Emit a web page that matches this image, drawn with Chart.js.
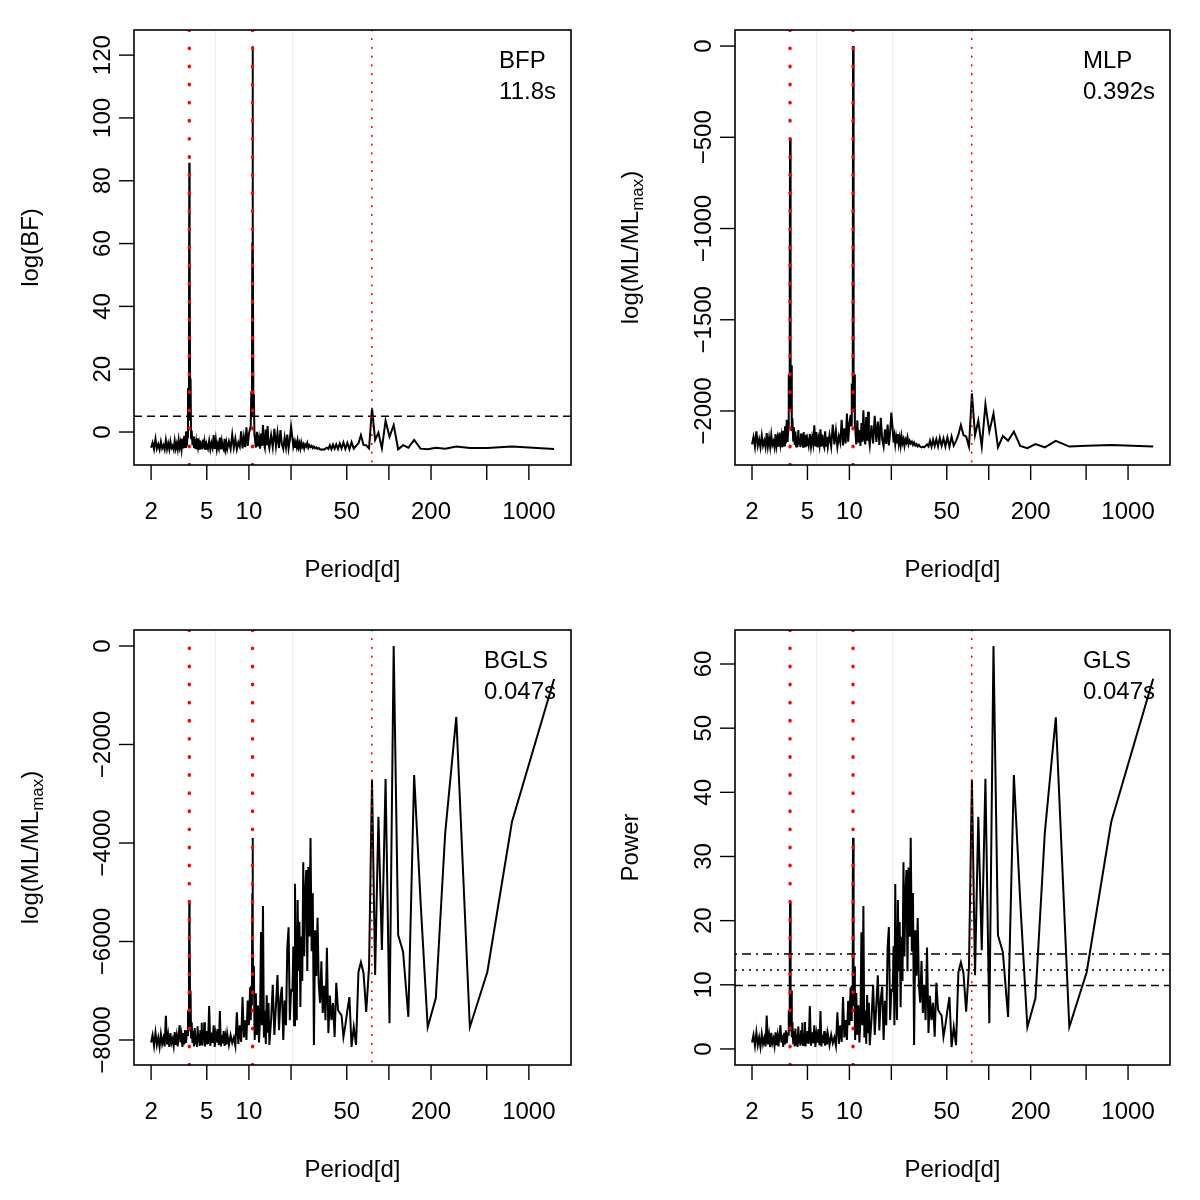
<!DOCTYPE html>
<html>
<head>
<meta charset="utf-8">
<title>Periodogramas</title>
<script src="https://cdn.jsdelivr.net/npm/chart.js@4.4.0/dist/chart.umd.min.js"></script>
<style>
  html, body { margin: 0; padding: 0; background: #fff; }
  #grid { position: relative; width: 1200px; height: 1200px; background: #fff; }
  #grid canvas { position: absolute; }
</style>
</head>
<body>
<div id="grid">
  <canvas id="cBFP"  width="600" height="600" style="left:0;top:0"></canvas>
  <canvas id="cMLP"  width="600" height="600" style="left:600px;top:0"></canvas>
  <canvas id="cBGLS" width="600" height="600" style="left:0;top:600px"></canvas>
  <canvas id="cGLS"  width="600" height="600" style="left:600px;top:600px"></canvas>
</div>
<script>
'use strict';

// ─── Data ─────────────────────────────────────────────────────────────────────
// Period grid [d], shared by the four periodograms
const periods = [
  // 2 - 3.6
  2.00, 2.05, 2.10, 2.15, 2.20, 2.25, 2.30, 2.35, 2.40, 2.45,
  2.50, 2.55, 2.60, 2.65, 2.70, 2.75, 2.80, 2.85, 2.90, 2.95,
  3.00, 3.05, 3.10, 3.15, 3.20, 3.25, 3.30, 3.35, 3.40, 3.45,
  3.50, 3.55, 3.60,
  // peak ~3.75
  3.64, 3.67, 3.70, 3.73, 3.75, 3.77, 3.80, 3.83, 3.86,
  // 3.9 - 5
  3.90, 3.95, 4.00, 4.05, 4.10, 4.15, 4.20, 4.25,
  4.30, 4.35, 4.40, 4.45, 4.50, 4.55, 4.60, 4.65, 4.70, 4.75,
  4.80, 4.85, 4.90, 4.95, 5.00,
  // 5.1 - 7
  5.1, 5.2, 5.3, 5.4, 5.5, 5.6, 5.7, 5.8, 5.9, 6.0,
  6.1, 6.2, 6.3, 6.4, 6.5, 6.6, 6.7, 6.8, 6.9, 7.0,
  // 7.2 - 10.2
  7.2, 7.4, 7.6, 7.8, 8.0, 8.2, 8.4, 8.6, 8.8, 9.0,
  9.2, 9.4, 9.6, 9.8, 10.0, 10.2,
  // peak ~10.6
  10.30, 10.40, 10.50, 10.57, 10.62, 10.68, 10.76, 10.85, 10.95,
  // 11 - 14
  11.0, 11.2, 11.4, 11.6, 11.8, 12.0, 12.2, 12.4, 12.6,
  12.8, 13.0, 13.2, 13.4, 13.6, 13.8, 14.0,
  // 14.4 - 20
  14.4, 14.8, 15.2, 15.6, 16.0, 16.4, 16.8, 17.2, 17.6, 18.0,
  18.4, 18.8, 19.2, 19.6, 20.0,
  // 20.5 - 44.6
  20.47, 20.75, 21.04, 21.34, 21.64, 21.96, 22.28, 22.61, 22.95, 23.31,
  23.67, 24.05, 24.44, 24.84, 25.25, 25.68, 26.12, 26.58, 27.05, 27.55,
  28.06, 28.58, 29.13, 29.71, 30.30, 30.92, 31.56, 32.23, 32.93, 33.67,
  34.43, 35.23, 36.07, 36.95, 37.88, 38.85, 39.87, 40.95, 42.08, 43.29,
  44.56,
  // long periods
  45.91, 47.34, 48.87, 50.50, 52.24, 54.11, 56.11, 58.27, 60.60, 63.13,
  65.87, 68.86, 72.14, 75.75, 79.74, 84.17, 89.12, 94.69, 101.0, 108.2,
  116.5, 126.3, 137.7, 151.5, 168.3, 189.4, 216.4, 252.5, 303.0, 378.8,
  505.0, 757.5, 1515
];

// BFP: log(BF)
const logBF = [
  -5.0, -3.4, -5.5, -2.2, -5.3, -3.9, -5.6, -3.1, -5.2, -4.2,
  -5.6, -2.6, -5.4, -3.6, -5.5, -3.0, -5.1, -4.4, -5.6, -2.8,
  -5.3, -3.7, -5.5, -2.5, -4.9, -3.3, -5.6, -2.1, -5.2, -1.2,
  -4.8, 0.2, -4.5,
  -1.5, 14, 4, 32, 85.7, 60, 12, 17, -2.0,
  0.5, -4.2, -1.4, -5.1, -2.3, -5.4, -3.2, -5.5,
  -2.0, -4.8, -3.6, -5.6, -2.7, -5.2, -3.9, -5.5, -2.4, -5.0,
  -3.3, -5.6, -2.9, -5.3, -4.0,
  -5.3, -2.8, -5.5, -3.5, -5.0, -1.0, -5.4, -2.4, -5.6, -3.8,
  -5.2, -1.8, -5.5, -2.9, -4.9, -5.6, -2.2, -5.3, -3.4, -5.5,
  -3.0, -5.4, -0.8, -5.0, -2.1, -5.5, -3.3, -4.6, 0.2, -5.2,
  -1.6, -4.8, 1.5, -4.4, -0.6, 1.2,
  2, 13, 5, 60, 122.8, 68.5, 8, 12, -1,
  -1.5, -5.0, 0.1, -4.6, -2.0, -5.3, -0.5, -4.4, 2.2,
  -3.6, -5.0, 0.8, -4.2, 1.9, -3.8, -5.2,
  -1.0, -4.8, 1.0, -4.5, -0.2, -5.1, 0.6, -3.9, -5.4, -1.8,
  -4.9, -0.8, -5.2, -2.5, 1.7,
  -2.0, -4.6, -3.2, -5.0, -3.4, -4.8, -2.8, -4.9, -3.6, -5.2,
  -3.3, -4.7, -3.9, -5.3, -4.0, -4.6, -3.5, -5.0, -4.2, -4.8,
  -4.4, -5.1, -4.6, -5.2, -4.9, -5.4, -5.1, -5.5, -5.6, -5.5,
  -5.6, -5.3, -5.0, -5.4, -4.2, -5.5, -4.0, -5.3, -3.9, -5.4,
  -3.6,
  -5.2, -3.3, -5.4, -3.5, -5.5, -3.2, -5.3, -4.4, -3.6, -1.0,
  -4.1, -4.2, -5.2, 7.5, -2.5, -0.2, -5.2, 3.6, -1.5, 2.2,
  -5.5, -4.2, -5.0, -2.5, -5.3, -5.5, -5.0, -5.3, -4.6, -5.1,
  -5.1, -4.6, -5.4
];

// MLP: log(ML/MLmax)
const logMLmlp = [
  -2183, -2142, -2196, -2111, -2191, -2155, -2199, -2134, -2189, -2163,
  -2199, -2121, -2194, -2147, -2196, -2131, -2186, -2168, -2199, -2126,
  -2191, -2150, -2196, -2118, -2181, -2139, -2199, -2108, -2189, -2084,
  -2178, -2048, -2170,
  -2100, -1800, -2000, -1300, -504, -950, -1850, -1750, -2110,
  -2040, -2163, -2090, -2186, -2113, -2194, -2137, -2196,
  -2105, -2178, -2147, -2199, -2124, -2189, -2155, -2196, -2116, -2183,
  -2139, -2199, -2129, -2191, -2157,
  -2191, -2126, -2196, -2144, -2183, -2079, -2194, -2116, -2199, -2152,
  -2189, -2100, -2196, -2129, -2181, -2199, -2111, -2191, -2142, -2196,
  -2131, -2194, -2074, -2183, -2108, -2196, -2139, -2173, -2048, -2189,
  -2095, -2178, -2014, -2168, -2069, -2022,
  -2080, -1850, -2000, -1640, 0, -930, -1900, -1800, -2090,
  -2092, -2183, -2051, -2173, -2105, -2191, -2066, -2168, -1996,
  -2147, -2183, -2033, -2163, -2004, -2152, -2189,
  -2079, -2178, -2027, -2170, -2058, -2186, -2038, -2155, -2194, -2100,
  -2181, -2074, -2189, -2118, -2009,
  -2105, -2173, -2137, -2183, -2142, -2178, -2126, -2181, -2147, -2189,
  -2139, -2176, -2155, -2191, -2157, -2173, -2144, -2183, -2163, -2178,
  -2168, -2186, -2173, -2189, -2181, -2194, -2186, -2196, -2199, -2196,
  -2199, -2191, -2183, -2194, -2163, -2196, -2157, -2191, -2155, -2194,
  -2147,
  -2190, -2150, -2195, -2145, -2196, -2140, -2190, -2165, -2130, -2077,
  -2132, -2140, -2195, -1903, -2132, -2053, -2195, -1963, -2113, -2013,
  -2199, -2137, -2163, -2113, -2192, -2204, -2181, -2199, -2164, -2195,
  -2190, -2186, -2195
];

// BGLS: log(ML/MLmax)
const logMLbgls = [
  -8050, -7900, -8120, -7850, -8100, -7950, -8140, -7880, -8080, -7960,
  -8130, -7510, -8090, -7900, -8140, -7860, -8060, -7980, -8120, -7840,
  -8100, -7920, -8130, -7880, -7700, -8050, -7900, -8140, -7860, -8090,
  -7800, -8060, -7880,
  -7900, -7400, -7800, -6600, -5198, -5909, -7300, -7000, -7950,
  -7640, -8060, -7820, -8130, -7760, -8090, -7900, -8140,
  -7720, -8050, -7880, -8120, -7800, -8080, -7650, -8110, -7860, -8000,
  -7640, -8130, -7900, -8070, -7820,
  -8080, -7310, -8120, -7850, -8060, -7700, -8140, -7880, -8050, -7780,
  -8100, -7410, -8130, -7900, -8070, -7820, -8120, -7940, -8090, -7870,
  -8100, -7900, -8060, -7950, -8120, -7440, -8080, -7700, -8040, -7130,
  -7950, -7600, -8000, -7200, -7700, -6930,
  -7600, -6900, -7300, -5015, -3898, -6000, -7000, -6500, -7700,
  -8000, -7050, -7900, -7300, -8050, -7600, -5810, -7700, -5280,
  -7950, -7400, -8080, -7090, -7850, -7250, -8100,
  -7600, -6880, -7900, -7300, -6680, -7800, -7150, -6920, -8000, -7200,
  -7700, -6130, -5710, -7600, -6990,
  -7000, -6100, -7700, -4830, -6900, -7600, -5160, -6600, -5600, -7330,
  -5900, -6800, -4390, -6300, -5000, -4550, -6600, -4490, -5900, -3900,
  -6200, -5020, -8100, -5770, -6700, -5520, -6900, -7250, -6400, -7450,
  -6900, -7600, -6130, -7860, -7100, -7600, -7250, -7940, -6840, -7390,
  -7450,
  -7500, -7940, -7700, -7400, -7130, -8140, -7740, -8100, -6620, -6420,
  -6640, -7430, -6520, -2720, -6680, -3470, -6170, -2700, -7660, 0,
  -5870, -6210, -7530, -2620, -5180, -7740, -7150, -3800, -1440, -7740,
  -6620, -3570, -670
];

// GLS: power
const glsPower = [
  1.0, 2.2, 0.5, 2.6, 0.6, 1.8, 0.3, 2.3, 0.8, 1.7,
  0.4, 5.2, 0.7, 2.2, 0.3, 2.5, 0.9, 1.6, 0.5, 2.6,
  0.6, 2.0, 0.4, 2.3, 3.7, 1.0, 2.2, 0.3, 2.5, 0.7,
  2.9, 0.9, 2.3,
  2.2, 6.0, 2.9, 12.1, 22.9, 17.5, 6.8, 9.1, 1.8,
  4.2, 0.9, 2.8, 0.4, 3.2, 0.7, 2.2, 0.3,
  3.5, 1.0, 2.3, 0.5, 2.9, 0.8, 4.1, 0.6, 2.5, 1.4,
  4.2, 0.4, 2.2, 0.9, 2.8,
  0.8, 6.7, 0.5, 2.6, 0.9, 3.7, 0.3, 2.3, 1.0, 3.1,
  0.6, 5.9, 0.4, 2.2, 0.9, 2.8, 0.5, 1.9, 0.7, 2.4,
  0.6, 2.2, 0.9, 1.8, 0.5, 5.7, 0.8, 3.7, 1.1, 8.1,
  1.8, 4.5, 1.4, 7.5, 3.7, 9.6,
  4.5, 9.9, 6.8, 24.3, 32.9, 16.7, 9.1, 12.9, 3.7,
  1.4, 8.7, 2.2, 6.8, 1.0, 4.5, 18.2, 3.7, 22.3,
  1.8, 6.0, 0.8, 8.4, 2.6, 7.2, 0.6,
  4.5, 10.0, 2.2, 6.8, 11.5, 2.9, 7.9, 9.7, 1.4, 7.5,
  3.7, 15.8, 19.0, 4.5, 9.2,
  9.1, 16.0, 3.7, 25.7, 9.9, 4.5, 23.2, 12.1, 19.8, 6.5,
  17.5, 10.6, 29.1, 14.4, 24.4, 27.9, 12.1, 28.3, 17.5, 32.9,
  15.2, 24.3, 0.6, 18.5, 11.4, 20.4, 9.9, 7.2, 13.7, 5.6,
  9.9, 4.5, 15.8, 2.5, 8.3, 4.5, 7.2, 1.9, 10.3, 6.1,
  5.6,
  5.2, 1.9, 3.7, 6.0, 8.1, 0.3, 3.4, 0.6, 12.0, 13.5,
  11.8, 5.8, 12.8, 41.9, 11.5, 36.2, 15.4, 42.1, 4.0, 62.8,
  17.7, 15.1, 5.0, 42.7, 23.0, 3.4, 7.9, 33.6, 51.7, 3.4,
  12.0, 35.4, 57.7
];

// Axis ticks
const xTicks      = [2, 5, 10, 20, 50, 100, 200, 500, 1000];
const xTickLabels = [2, 5, 10, 50, 200, 1000];
const yTicksBFP   = [0, 20, 40, 60, 80, 100, 120];
const yTicksMLP   = [0, -500, -1000, -1500, -2000];
const yTicksBGLS  = [0, -2000, -4000, -6000, -8000];
const yTicksGLS   = [0, 10, 20, 30, 40, 50, 60];

// Reference periods and levels
const signalPeriods = [3.75, 10.62];
const weakPeriod    = 75.5;
const faintPeriods  = [5.73, 20.2];
const bfThreshold   = 5.01;
const glsFap        = [9.9, 12.3, 14.8];

// ─── Utils ────────────────────────────────────────────────────────────────────
const FONT = '"Liberation Sans", Arial, Helvetica, sans-serif';

function fmt(v) {
  return v < 0 ? '\u2212' + Math.abs(v) : String(v);
}

function vLine(ctx, a, px, width, dash, color) {
  ctx.save();
  ctx.strokeStyle = color;
  ctx.lineWidth = width;
  ctx.lineCap = 'round';
  ctx.setLineDash(dash);
  ctx.beginPath();
  ctx.moveTo(px, a.top);
  ctx.lineTo(px, a.bottom);
  ctx.stroke();
  ctx.restore();
}

// ─── R-like plot decorations ──────────────────────────────────────────────────
const rPlot = {
  id: 'rPlot',
  beforeDatasetsDraw(chart) {
    const { ctx, chartArea: a, scales: { x } } = chart;
    ctx.save();
    faintPeriods.forEach(function (p) {
      const px = Math.round(x.getPixelForValue(p)) + 0.5;
      ctx.strokeStyle = 'rgba(215,190,190,0.3)';
      ctx.lineWidth = 1;
      ctx.beginPath();
      ctx.moveTo(px, a.top);
      ctx.lineTo(px, a.bottom);
      ctx.stroke();
    });
    ctx.restore();
  },
  afterDatasetsDraw(chart, args, opts) {
    const { ctx, chartArea: a, scales: { x, y } } = chart;
    ctx.save();
    ctx.beginPath();
    ctx.rect(a.left, a.top, a.right - a.left, a.bottom - a.top);
    ctx.clip();

    (opts.hlines || []).forEach(function (h) {
      const py = y.getPixelForValue(h.value);
      ctx.strokeStyle = '#000';
      ctx.lineWidth = 1.4;
      ctx.lineCap = 'butt';
      ctx.setLineDash(h.dash);
      ctx.beginPath();
      ctx.moveTo(a.left, py);
      ctx.lineTo(a.right, py);
      ctx.stroke();
    });

    signalPeriods.forEach(function (p) {
      vLine(ctx, a, x.getPixelForValue(p), 3.4, [0.5, 17.6], '#ff0000');
    });
    vLine(ctx, a, x.getPixelForValue(weakPeriod), 1.8, [0.4, 8.4], '#ff0000');
    ctx.restore();
  },
  afterDraw(chart, args, opts) {
    const { ctx, chartArea: a, scales: { x, y } } = chart;
    ctx.save();
    ctx.fillStyle = '#000';
    ctx.strokeStyle = '#000';
    ctx.setLineDash([]);

    // box
    ctx.lineWidth = 1.6;
    ctx.strokeRect(a.left, a.top, a.right - a.left, a.bottom - a.top);

    // x axis
    ctx.lineWidth = 1.4;
    ctx.font = '24px ' + FONT;
    ctx.textAlign = 'center';
    ctx.textBaseline = 'alphabetic';
    xTicks.forEach(function (t) {
      const px = x.getPixelForValue(t);
      ctx.beginPath();
      ctx.moveTo(px, a.bottom);
      ctx.lineTo(px, a.bottom + 15);
      ctx.stroke();
      if (xTickLabels.indexOf(t) >= 0) ctx.fillText(String(t), px, a.bottom + 54);
    });
    ctx.fillText('Period[d]', (a.left + a.right) / 2, a.bottom + 112);

    // y axis
    opts.yTicks.forEach(function (t) {
      const py = y.getPixelForValue(t);
      ctx.beginPath();
      ctx.moveTo(a.left, py);
      ctx.lineTo(a.left - 15, py);
      ctx.stroke();
      ctx.save();
      ctx.translate(a.left - 24, py);
      ctx.rotate(-Math.PI / 2);
      ctx.fillText(fmt(t), 0, 0);
      ctx.restore();
    });

    // y title (optional subscript)
    ctx.save();
    ctx.translate(38, (a.top + a.bottom) / 2);
    ctx.rotate(-Math.PI / 2);
    ctx.textAlign = 'left';
    const parts = opts.yTitle;
    const sizes = parts.map(function (p) { return p.sub ? 17 : 24; });
    let total = 0;
    parts.forEach(function (p, i) {
      ctx.font = sizes[i] + 'px ' + FONT;
      total += ctx.measureText(p.text).width;
    });
    let cx = -total / 2;
    parts.forEach(function (p, i) {
      ctx.font = sizes[i] + 'px ' + FONT;
      ctx.fillText(p.text, cx, p.sub ? 5 : 0);
      cx += ctx.measureText(p.text).width;
    });
    ctx.restore();

    // method name and timing
    ctx.font = '24px ' + FONT;
    ctx.textAlign = 'left';
    const w = Math.max.apply(null, opts.legend.map(function (s) { return ctx.measureText(s).width; }));
    const lx = a.right - 15 - w;
    ctx.fillText(opts.legend[0], lx, a.top + 38);
    ctx.fillText(opts.legend[1], lx, a.top + 69);

    ctx.restore();
  }
};

// ─── Panels ───────────────────────────────────────────────────────────────────
function crearPanel(id, valores, cfg) {
  if (valores.length !== periods.length) {
    throw new Error(id + ': ' + valores.length + ' values for ' + periods.length + ' periods');
  }
  const puntos = periods.map(function (p, i) { return { x: p, y: valores[i] }; });
  return new Chart(document.getElementById(id), {
    type: 'line',
    data: {
      datasets: [{
        data: puntos,
        borderColor: '#000',
        borderWidth: 2,
        pointRadius: 0,
        tension: 0,
        fill: false,
      }],
    },
    options: {
      responsive: false,
      animation: false,
      devicePixelRatio: 1,
      layout: { padding: { left: cfg.left, right: 600 - cfg.right, top: 30, bottom: 135 } },
      scales: {
        x: { type: 'logarithmic', min: 1.51, max: 2000, display: false },
        y: { type: 'linear', min: cfg.min, max: cfg.max, display: false },
      },
      plugins: {
        legend: { display: false },
        tooltip: { enabled: false },
        rPlot: {
          yTicks: cfg.yTicks,
          yTitle: cfg.yTitle,
          legend: cfg.legend,
          hlines: cfg.hlines || [],
        },
      },
    },
    plugins: [rPlot],
  });
}

const titleML = [{ text: 'log(ML/ML' }, { text: 'max', sub: true }, { text: ')' }];

crearPanel('cBFP', logBF, {
  left: 134, right: 571, min: -10.5, max: 128,
  yTicks: yTicksBFP, yTitle: [{ text: 'log(BF)' }], legend: ['BFP', '11.8s'],
  hlines: [{ value: bfThreshold, dash: [8, 5] }],
});

crearPanel('cMLP', logMLmlp, {
  left: 135, right: 570, min: -2296, max: 88,
  yTicks: yTicksMLP, yTitle: titleML, legend: ['MLP', '0.392s'],
});

crearPanel('cBGLS', logMLbgls, {
  left: 134, right: 571, min: -8508, max: 325,
  yTicks: yTicksBGLS, yTitle: titleML, legend: ['BGLS', '0.047s'],
});

crearPanel('cGLS', glsPower, {
  left: 135, right: 570, min: -2.5, max: 65.3,
  yTicks: yTicksGLS, yTitle: [{ text: 'Power' }], legend: ['GLS', '0.047s'],
  hlines: [
    { value: glsFap[0], dash: [8, 5] },
    { value: glsFap[1], dash: [2, 5] },
    { value: glsFap[2], dash: [2, 5, 9, 5] },
  ],
});
</script>
</body>
</html>
